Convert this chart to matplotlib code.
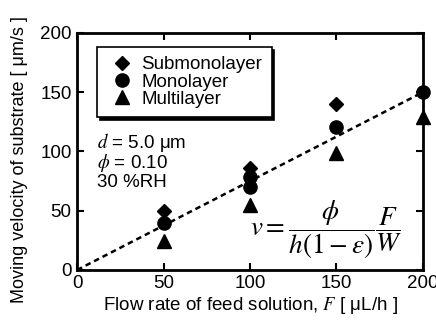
import matplotlib
matplotlib.use("Agg")
import matplotlib.pyplot as plt
import numpy as np

plt.rcParams['font.family'] = ['Liberation Sans', 'DejaVu Sans']
plt.rcParams['mathtext.fontset'] = 'stix'

sub_x = [50, 100, 150]
sub_y = [50, 86, 140]
mono_x = [50, 100, 100, 150, 200]
mono_y = [40, 78, 70, 121, 150]
multi_x = [50, 100, 150, 200]
multi_y = [24, 55, 99, 129]
fit_x = [0, 200]
fit_y = [0, 150]

FS = 13.5

fig = plt.figure(figsize=(4.36, 3.26), dpi=100)
ax = fig.add_axes([0.177, 0.172, 0.793, 0.727])

ax.plot(fit_x, fit_y, 'k--', lw=1.8, dashes=(2.2, 1.6), zorder=1)
ax.plot(sub_x, sub_y, 'kD', ms=7.5, ls='none', label='Submonolayer', clip_on=False, zorder=3)
ax.plot(mono_x, mono_y, 'ko', ms=9.5, ls='none', label='Monolayer', clip_on=False, zorder=3)
ax.plot(multi_x, multi_y, 'k^', ms=9.5, ls='none', label='Multilayer', clip_on=False, zorder=3)

ax.set_xlim(0, 200)
ax.set_ylim(0, 200)
ax.set_xticks([0, 50, 100, 150, 200])
ax.set_yticks([0, 50, 100, 150, 200])
ax.tick_params(direction='in', length=5, width=1.5, labelsize=FS,
               top=True, right=True, pad=4)
for s in ax.spines.values():
    s.set_linewidth(2)

ax.set_xlabel('Flow rate of feed solution, $\\mathit{F}$ [ \u03bcL/h ]', fontsize=FS, labelpad=2)
ax.set_ylabel('Moving velocity of substrate [ \u03bcm/s ]', fontsize=13)
ax.yaxis.set_label_coords(-0.142, 0.464)

leg = ax.legend(loc='upper left', bbox_to_anchor=(0.058, 0.941), frameon=True,
                fancybox=False, fontsize=FS, handletextpad=0.25, borderpad=0.5,
                labelspacing=0.0, handlelength=1.6, borderaxespad=0,
                shadow={'color': 'black', 'alpha': 1.0, 'ox': 2, 'oy': -2})
leg.get_frame().set_edgecolor('black')
leg.get_frame().set_linewidth(1.2)

ax.text(0.058, 0.536, '$\\mathit{d}$ = 5.0 \u03bcm', transform=ax.transAxes, fontsize=FS, va='center')
ax.text(0.058, 0.45, '$\\mathit{\\phi}$ = 0.10', transform=ax.transAxes, fontsize=FS, va='center')
ax.text(0.058, 0.371, '30 %RH', transform=ax.transAxes, fontsize=FS, va='center')

ax.text(0.72, 0.169, r'$v=\dfrac{\phi}{h\left(1-\varepsilon\right)}\dfrac{F}{W}$',
        transform=ax.transAxes, fontsize=19.5, ha='center', va='center')

fig.savefig('out.png', dpi=100)
